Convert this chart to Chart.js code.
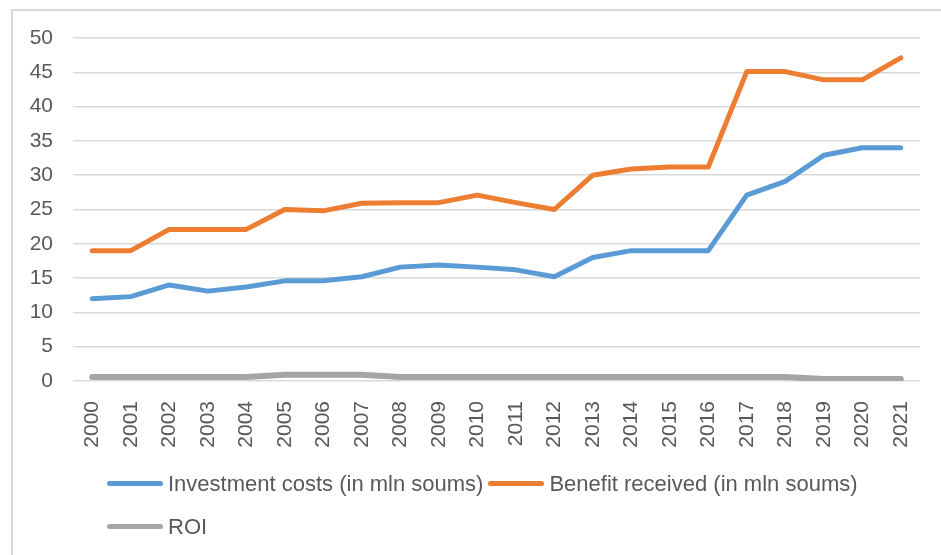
<!DOCTYPE html>
<html>
<head>
<meta charset="utf-8">
<script src="https://cdn.jsdelivr.net/npm/chart.js@4.4.1/dist/chart.umd.min.js"></script>
<style>
  html, body { margin: 0; padding: 0; background: #fff; }
  #wrap { position: relative; width: 941px; height: 555px; overflow: hidden; }
  #frame {
    position: absolute; left: 11px; top: 9px; width: 960px; height: 600px;
    border-left: 2px solid #d9d9d9; border-top: 2px solid #d9d9d9;
  }
  #chart { position: absolute; left: 0; top: 0; }
  #legend {
    position: absolute; left: 107px; top: 472px; width: 770px;
    display: flex; flex-wrap: wrap; row-gap: 19px;
    font-family: "Liberation Sans", Arial, sans-serif; font-size: 22px; color: #595959;
  }
  .item { display: flex; align-items: center; height: 24px; margin-right: 5px; }
  .swatch { width: 56px; height: 5px; border-radius: 3px; margin-right: 5px; margin-top: -2px; }
</style>
</head>
<body>
<div id="wrap">
  <div id="frame"></div>
  <canvas id="chart" width="941" height="555"></canvas>
  <div id="legend"></div>
</div>
<script>
const years = ['2000', '2001', '2002', '2003', '2004', '2005', '2006', '2007', '2008', '2009', '2010',
  '2011', '2012', '2013', '2014', '2015', '2016', '2017', '2018', '2019', '2020', '2021'];
const investmentCosts = [12.0, 12.3, 14.0, 13.1, 13.7, 14.6, 14.6, 15.2, 16.6, 16.9, 16.6,
  16.2, 15.2, 18.0, 19.0, 19.0, 19.0, 27.1, 29.1, 32.9, 34.0, 34.0];
const benefitReceived = [19.0, 19.0, 22.1, 22.1, 22.1, 25.0, 24.8, 25.9, 26.0, 26.0, 27.1,
  26.0, 25.0, 30.0, 30.9, 31.2, 31.2, 45.1, 45.1, 43.9, 43.9, 47.1];
const roi = [0.6, 0.6, 0.6, 0.6, 0.6, 0.9, 0.9, 0.9, 0.6, 0.6, 0.6,
  0.6, 0.6, 0.6, 0.6, 0.6, 0.6, 0.6, 0.6, 0.3, 0.3, 0.3];

const textColor = '#595959';
const gridColor = '#d9d9d9';
const tickFont = { family: '"Liberation Sans", Arial, sans-serif', size: 21 };

const lineStyle = (color, width) => ({
  borderColor: color,
  backgroundColor: color,
  borderWidth: width,
  pointRadius: 0,
  pointHoverRadius: 0,
  tension: 0,
  borderCapStyle: 'round',
  borderJoinStyle: 'round',
  fill: false,
});

const ctx = document.getElementById('chart').getContext('2d');

const chart = new Chart(ctx, {
  type: 'line',
  data: {
    labels: years,
    datasets: [
      { label: 'Investment costs (in mln soums)', data: investmentCosts, ...lineStyle('#5b9bd5', 5) },
      { label: 'Benefit received (in mln soums)', data: benefitReceived, ...lineStyle('#ed7d31', 5) },
      { label: 'ROI', data: roi, ...lineStyle('#a5a5a5', 6) },
    ],
  },
  options: {
    responsive: false,
    animation: false,
    layout: {
      padding: { left: 12, top: 38, right: 21, bottom: 60 },
    },
    plugins: {
      legend: { display: false },
      tooltip: { enabled: false },
    },
    scales: {
      x: {
        offset: true,
        grid: { display: false },
        border: { display: false },
        ticks: {
          color: textColor,
          font: tickFont,
          minRotation: 90,
          maxRotation: 90,
          padding: 12,
          autoSkip: false,
        },
        afterFit: (scale) => { scale.height = 114; },
      },
      y: {
        min: 0,
        max: 50,
        grid: { color: gridColor, lineWidth: 1.5, drawTicks: false },
        border: { display: false },
        ticks: {
          stepSize: 5,
          color: textColor,
          font: tickFont,
          padding: 20,
        },
        afterFit: (scale) => { scale.width = 61; },
      },
    },
  },
});

// legend drawn as html, built from the chart's datasets
const legendEl = document.getElementById('legend');
chart.data.datasets.forEach((ds) => {
  const item = document.createElement('div');
  item.className = 'item';
  const sw = document.createElement('span');
  sw.className = 'swatch';
  sw.style.background = ds.borderColor;
  const label = document.createElement('span');
  label.textContent = ds.label;
  item.appendChild(sw);
  item.appendChild(label);
  legendEl.appendChild(item);
});
</script>
</body>
</html>
